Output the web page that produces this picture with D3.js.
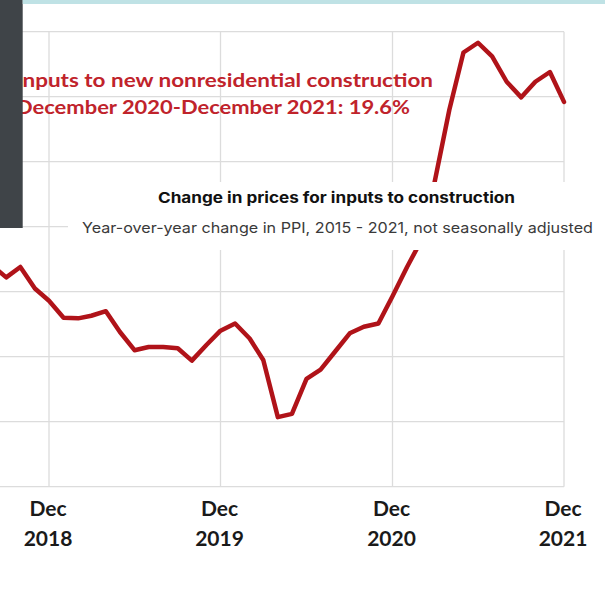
<!DOCTYPE html>
<html>
<head>
<meta charset="utf-8">
<script src="https://cdn.jsdelivr.net/npm/d3@7"></script>
<style>
  body { margin: 0; background: #fff; }
  svg { display: block; }
</style>
</head>
<body>
<div id="chart"></div>
<script>
// Monthly year-over-year change in PPI, inputs to nonresidential construction (%)
const months = [
    "2018-08", "2018-09", "2018-10", "2018-11", "2018-12",
    "2019-01", "2019-02", "2019-03", "2019-04", "2019-05", "2019-06",
    "2019-07", "2019-08", "2019-09", "2019-10", "2019-11", "2019-12",
    "2020-01", "2020-02", "2020-03", "2020-04", "2020-05", "2020-06",
    "2020-07", "2020-08", "2020-09", "2020-10", "2020-11", "2020-12",
    "2021-01", "2021-02", "2021-03", "2021-04", "2021-05", "2021-06",
    "2021-07", "2021-08", "2021-09", "2021-10", "2021-11", "2021-12"
];
const ppiChange = [
    7.05, 6.1, 6.9, 5.25, 4.3,
    3.0, 2.95, 3.15, 3.5, 1.9, 0.5,
    0.75, 0.75, 0.65, -0.3, 0.9, 2.0,
    2.55, 1.4, -0.25, -4.65, -4.4, -1.7,
    -1.0, 0.4, 1.8, 2.3, 2.55, 4.65,
    6.9, 9.0, 13.5, 19.0, 23.4, 24.15,
    23.1, 21.15, 19.95, 21.15, 21.9, 19.6
];
const yTicks = [-10, -5, 0, 5, 10, 15, 20, 25];
const xTickMonths = ["2018-12", "2019-12", "2020-12", "2021-12"];
const annotationLines = [
    "Inputs to new nonresidential construction",
    "December 2020-December 2021: 19.6%"
];
const chartTitle = "Change in prices for inputs to construction";
const chartSubtitle = "Year-over-year change in PPI, 2015 - 2021, not seasonally adjusted";

const svgWidth = 605;
const svgHeight = 590;

const parseMonth = d3.timeParse("%Y-%m");
const data = months.map((m, i) => ({ date: parseMonth(m), value: ppiChange[i] }));

const svg = d3.select('#chart')
    .append('svg')
    .attr('width', svgWidth)
    .attr('height', svgHeight);

svg.append('rect')
    .attr('width', svgWidth)
    .attr('height', svgHeight)
    .attr('fill', '#fff');

// Scales (plot area: Dec 2018 .. Dec 2021, -10% .. 25%)
const xScale = d3.scaleTime()
    .domain([parseMonth("2018-12"), parseMonth("2021-12")])
    .range([49, 564]);
const yScale = d3.scaleLinear()
    .domain([-10, 25])
    .range([486.7, 31.7]);

// Grid
const grid = svg.append('g')
    .attr('stroke', '#dcdcdc')
    .attr('stroke-width', 1.3);
grid.selectAll('line.h')
    .data(yTicks)
    .enter()
    .append('line')
    .attr('class', 'h')
    .attr('x1', 0)
    .attr('x2', xScale.range()[1])
    .attr('y1', d => yScale(d))
    .attr('y2', d => yScale(d));
grid.selectAll('line.v')
    .data(xTickMonths)
    .enter()
    .append('line')
    .attr('class', 'v')
    .attr('x1', d => xScale(parseMonth(d)))
    .attr('x2', d => xScale(parseMonth(d)))
    .attr('y1', yScale(25))
    .attr('y2', yScale(-10));

// Line
const line = d3.line()
    .x(d => xScale(d.date))
    .y(d => yScale(d.value));
svg.append('path')
    .datum(data)
    .attr('d', line)
    .attr('fill', 'none')
    .attr('stroke', '#b01319')
    .attr('stroke-width', 4.5)
    .attr('stroke-linejoin', 'round')
    .attr('stroke-linecap', 'round');

// Bottom axis: "Dec" over the year
const xAxis = d3.axisBottom(xScale)
    .tickValues(xTickMonths.map(parseMonth))
    .tickSize(0)
    .tickFormat(d3.timeFormat("%Y"));
const axisG = svg.append('g')
    .attr('transform', `translate(-1.5, ${yScale(-10)})`)
    .call(xAxis);
axisG.select('.domain').remove();
axisG.selectAll('.tick text')
    .attr('y', 0)
    .attr('dy', null)
    .attr('fill', '#1a1a1a')
    .style('font-family', 'Lato, "Open Sans", sans-serif')
    .style('font-weight', 'bold')
    .style('font-size', '21px')
    .each(function(d) {
        const t = d3.select(this);
        const year = t.text();
        t.text(null);
        t.append('tspan').attr('x', 0).attr('y', 29.5).text('Dec');
        t.append('tspan').attr('x', 0).attr('y', 59.5).text(year);
    });

// Red annotation
svg.selectAll('text.note')
    .data(annotationLines)
    .enter()
    .append('text')
    .attr('class', 'note')
    .attr('x', 16)
    .attr('y', (d, i) => 86.5 + i * 27.5)
    .attr('textLength', (d, i) => i === 0 ? 417 : 394)
    .attr('lengthAdjust', 'spacingAndGlyphs')
    .attr('fill', '#c0232b')
    .style('font-family', 'Lato, "Open Sans", sans-serif')
    .style('font-weight', 'bold')
    .style('font-size', '19.5px')
    .text(d => d);

// Title box laid over the chart
svg.append('rect')
    .attr('x', 68)
    .attr('y', 182)
    .attr('width', svgWidth - 68)
    .attr('height', 68)
    .attr('fill', '#fff');
svg.append('text')
    .attr('x', 158)
    .attr('y', 202.5)
    .attr('textLength', 357)
    .attr('lengthAdjust', 'spacingAndGlyphs')
    .attr('fill', '#111')
    .style('font-family', 'Inter, "Open Sans", sans-serif')
    .style('font-weight', 'bold')
    .style('font-size', '15px')
    .text(chartTitle);
svg.append('text')
    .attr('x', 82)
    .attr('y', 232.5)
    .attr('textLength', 511)
    .attr('lengthAdjust', 'spacingAndGlyphs')
    .attr('fill', '#3a3a3a')
    .style('font-family', 'Inter, "Open Sans", sans-serif')
    .style('font-size', '14.5px')
    .text(chartSubtitle);

// Frame pieces of the screenshot: dark side bar and teal strip on top
svg.append('rect')
    .attr('x', 0)
    .attr('y', 0)
    .attr('width', 22.7)
    .attr('height', 228)
    .attr('fill', '#3f4448');
svg.append('rect')
    .attr('x', 22.7)
    .attr('y', 0)
    .attr('width', svgWidth - 22.7)
    .attr('height', 4)
    .attr('fill', '#bfe2e5');
</script>
</body>
</html>
